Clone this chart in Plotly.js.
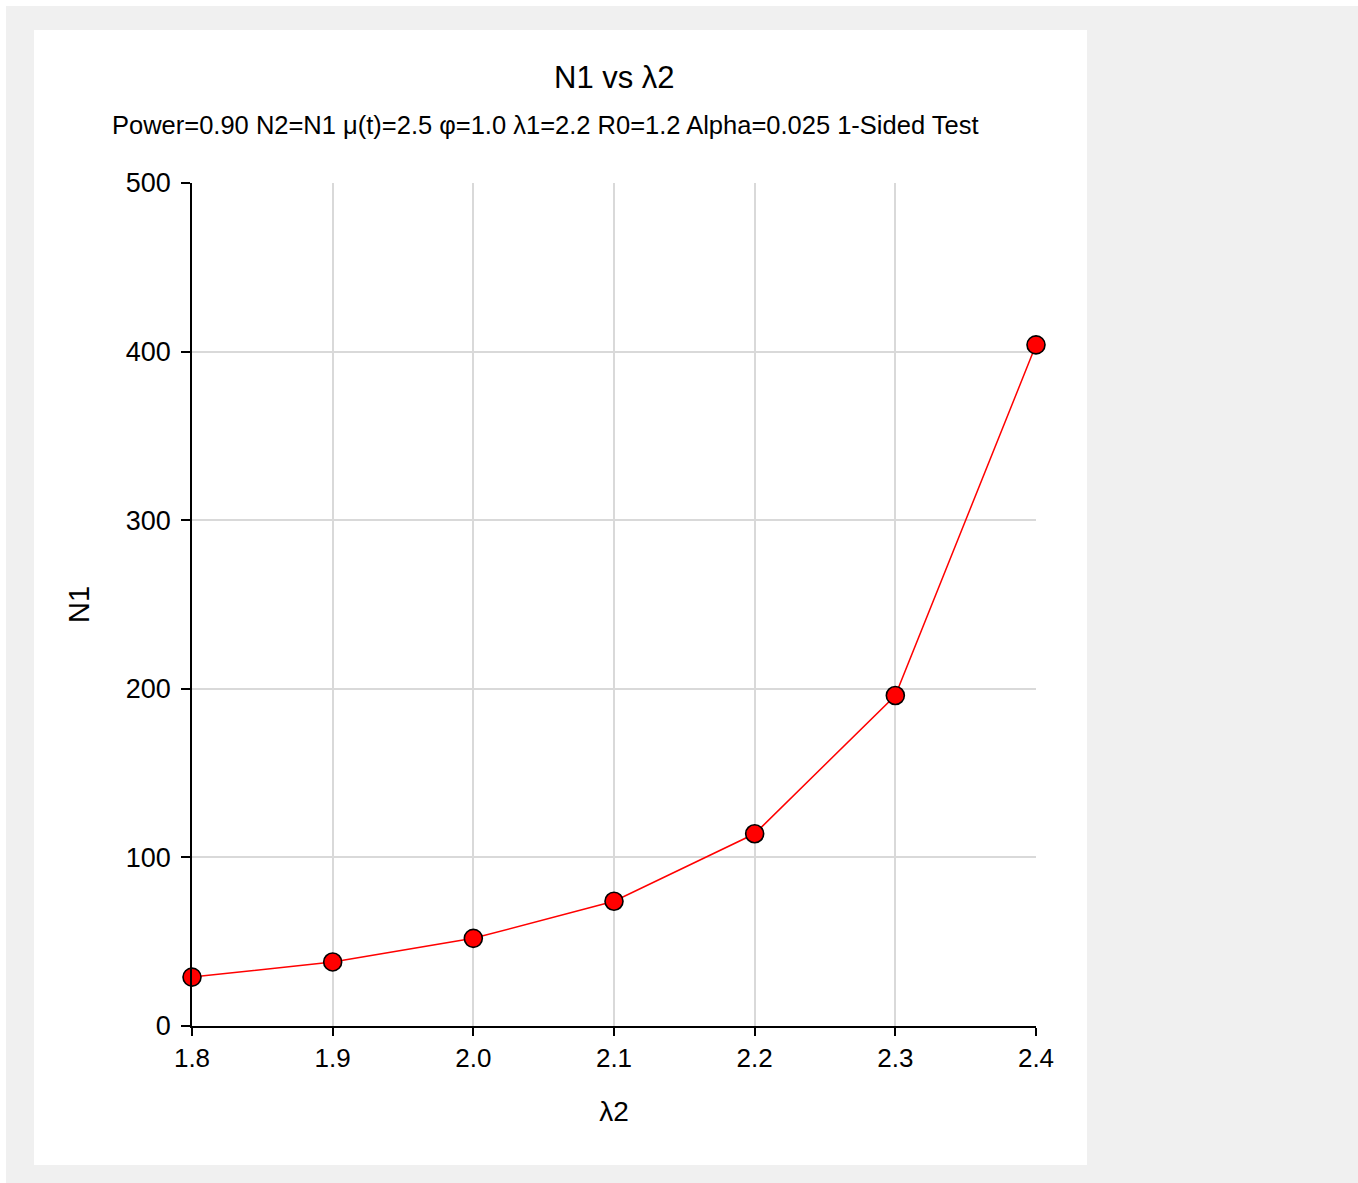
<!DOCTYPE html>
<html>
<head>
<meta charset="utf-8">
<script src="https://cdn.plot.ly/plotly-3.0.1.min.js"></script>
<style>
  html, body { margin: 0; padding: 0; background: #ffffff; width: 1358px; height: 1183px; overflow: hidden; }
  #frame { position: absolute; left: 6px; top: 6px; width: 1352px; height: 1177px; background: #f0f0f0; }
  #chart { position: absolute; left: 34px; top: 30px; width: 1053px; height: 1135px; background: #ffffff; }
</style>
</head>
<body>
<div id="frame"></div>
<div id="chart"></div>
<script>
const lambda2 = [1.8, 1.9, 2.0, 2.1, 2.2, 2.3, 2.4];
const n1 = [29, 38, 52, 74, 114, 196, 404];
const xTickVals = [1.8, 1.9, 2.0, 2.1, 2.2, 2.3, 2.4];
const xTickText = ['1.8', '1.9', '2.0', '2.1', '2.2', '2.3', '2.4'];
const yTickVals = [0, 100, 200, 300, 400, 500];

const titleText = 'N1 vs λ2';
const subtitleText = 'Power=0.90 N2=N1 μ(t)=2.5 φ=1.0 λ1=2.2 R0=1.2 Alpha=0.025 1-Sided Test';

const fontFamily = 'Arial, "Liberation Sans", sans-serif';

const trace = {
  x: lambda2,
  y: n1,
  type: 'scatter',
  mode: 'lines+markers',
  line: { color: '#ff0000', width: 1.5 },
  marker: { color: '#ff0000', size: 18, line: { color: '#000000', width: 1.6 } },
  cliponaxis: false,
  hoverinfo: 'x+y'
};

const layout = {
  width: 1053,
  height: 1135,
  paper_bgcolor: '#ffffff',
  plot_bgcolor: '#ffffff',
  margin: { l: 158, r: 51, t: 153, b: 139 },
  showlegend: false,
  font: { family: fontFamily, color: '#000000' },
  xaxis: {
    range: [1.8, 2.4],
    tickvals: xTickVals,
    ticktext: xTickText,
    showgrid: true,
    gridcolor: '#d9d9d9',
    gridwidth: 1.5,
    zeroline: false,
    showline: true,
    linecolor: '#000000',
    linewidth: 1.5,
    ticks: 'outside',
    ticklen: 8,
    tickwidth: 1.5,
    tickcolor: '#000000',
    tickfont: { size: 26, family: fontFamily },
    title: { text: 'λ2', font: { size: 28, family: fontFamily }, standoff: 29 }
  },
  yaxis: {
    range: [0, 500],
    tickvals: yTickVals,
    showgrid: true,
    gridcolor: '#d9d9d9',
    gridwidth: 1.5,
    zeroline: false,
    showline: true,
    linecolor: '#000000',
    linewidth: 1.5,
    ticks: 'outside',
    ticklen: 9,
    tickwidth: 1.5,
    tickcolor: '#000000',
    ticklabelstandoff: 5,
    tickfont: { size: 27, family: fontFamily },
    title: { text: 'N1', font: { size: 29, family: fontFamily }, standoff: 28 }
  },
  annotations: [
    {
      text: titleText, xref: 'paper', yref: 'paper', x: 0.5, y: 1.1246,
      xanchor: 'center', yanchor: 'middle', showarrow: false,
      font: { size: 31, family: fontFamily, color: '#000000' }
    },
    {
      text: subtitleText, xref: 'paper', yref: 'paper', x: 0.418, y: 1.0688,
      xanchor: 'center', yanchor: 'middle', showarrow: false,
      font: { size: 25.5, family: fontFamily, color: '#000000' }
    }
  ]
};

Plotly.newPlot('chart', [trace], layout, { displayModeBar: false, staticPlot: false });
</script>
</body>
</html>
